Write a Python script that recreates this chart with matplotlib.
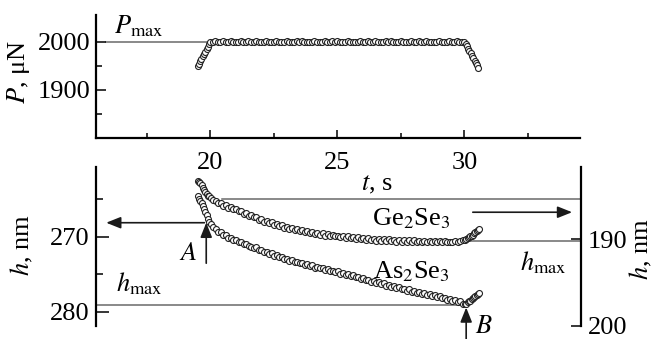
import matplotlib.pyplot as plt

plt.rcParams['font.family'] = ['Liberation Serif', 'DejaVu Serif']
plt.rcParams['mathtext.fontset'] = 'stix'
plt.rcParams['font.size'] = 19

# sample times, s (shared by the three records)
t = [19.50, 19.55, 19.60, 19.65, 19.70, 19.75, 19.80, 19.85, 19.90, 19.95, 20.00,
     20.1, 20.2, 20.3, 20.4, 20.5, 20.6, 20.7, 20.8, 20.9,
     21.0, 21.1, 21.2, 21.3, 21.4, 21.5, 21.6, 21.7, 21.8, 21.9,
     22.0, 22.1, 22.2, 22.3, 22.4, 22.5, 22.6, 22.7, 22.8, 22.9,
     23.0, 23.1, 23.2, 23.3, 23.4, 23.5, 23.6, 23.7, 23.8, 23.9,
     24.0, 24.1, 24.2, 24.3, 24.4, 24.5, 24.6, 24.7, 24.8, 24.9,
     25.0, 25.1, 25.2, 25.3, 25.4, 25.5, 25.6, 25.7, 25.8, 25.9,
     26.0, 26.1, 26.2, 26.3, 26.4, 26.5, 26.6, 26.7, 26.8, 26.9,
     27.0, 27.1, 27.2, 27.3, 27.4, 27.5, 27.6, 27.7, 27.8, 27.9,
     28.0, 28.1, 28.2, 28.3, 28.4, 28.5, 28.6, 28.7, 28.8, 28.9,
     29.0, 29.1, 29.2, 29.3, 29.4, 29.5, 29.6, 29.7, 29.8, 29.9,
     30.00, 30.05, 30.10, 30.15, 30.20, 30.25, 30.30, 30.35, 30.40, 30.45, 30.50, 30.55]

# load, uN
P = [1950, 1955, 1960, 1965, 1970, 1975, 1980, 1985, 1990, 1995, 2000,
     2000, 2001, 1999, 2000, 2001, 2000, 1999, 2001, 2000,
     2000, 1999, 2001, 2000, 2000, 2001, 1999, 2000, 2001, 2000,
     1999, 2000, 2001, 2000, 1999, 2000, 2001, 2000, 2000, 1999,
     2001, 2000, 2000, 1999, 2001, 2000, 2001, 2000, 1999, 2000,
     2000, 2001, 1999, 2000, 2000, 2001, 2000, 1999, 2001, 2000,
     2001, 2000, 1999, 2000, 2001, 2000, 2000, 1999, 2000, 2001,
     2000, 1999, 2001, 2000, 2000, 2001, 1999, 2000, 2000, 2001,
     2000, 2001, 2000, 1999, 2000, 2001, 2000, 2000, 1999, 2001,
     2000, 2000, 2001, 1999, 2000, 2001, 2000, 1999, 2000, 2000,
     2001, 2000, 1999, 2000, 2001, 2000, 2000, 2001, 1999, 2000,
     2000, 1996, 1991, 1986, 1981, 1976, 1971, 1966, 1961, 1956, 1951, 1946]

# depth As2Se3, nm (left axis)
h_as = [264.6, 264.9, 265.2, 265.5, 265.9, 266.3, 266.7, 267.1, 267.6, 268.0, 268.3,
        268.7, 268.9, 269.3, 269.4, 269.7, 269.8, 270.1, 270.1, 270.4,
        270.4, 270.7, 270.7, 271.0, 270.9, 271.2, 271.3, 271.5, 271.4, 271.7,
        271.8, 272.0, 272.0, 272.3, 272.2, 272.5, 272.4, 272.7, 272.7, 273.0,
        272.9, 273.2, 273.1, 273.4, 273.3, 273.5, 273.5, 273.7, 273.6, 273.9,
        273.8, 274.1, 274.0, 274.2, 274.2, 274.4, 274.3, 274.6, 274.5, 274.7,
        274.6, 274.9, 274.8, 275.1, 275.0, 275.2, 275.1, 275.4, 275.3, 275.6,
        275.5, 275.8, 275.7, 276.0, 275.9, 276.1, 276.0, 276.3, 276.2, 276.5,
        276.4, 276.7, 276.6, 276.8, 276.7, 277.0, 276.9, 277.2, 277.0, 277.3,
        277.2, 277.5, 277.3, 277.6, 277.5, 277.7, 277.6, 277.9, 277.7, 278.0,
        277.9, 278.2, 278.1, 278.4, 278.3, 278.5, 278.4, 278.7, 278.6, 278.9,
        279.0, 278.9, 278.7, 278.6, 278.5, 278.3, 278.2, 278.0, 277.9, 277.8, 277.6, 277.5]

# depth Ge2Se3, nm (right axis)
h_ge = [183.3, 183.4, 183.6, 183.8, 184.1, 184.4, 184.6, 184.8, 185.0, 185.1, 185.3,
        185.5, 185.6, 185.9, 185.9, 186.2, 186.1, 186.4, 186.3, 186.6,
        186.5, 186.8, 186.8, 187.1, 187.0, 187.3, 187.2, 187.5, 187.5, 187.8,
        187.7, 188.0, 187.9, 188.2, 188.1, 188.4, 188.3, 188.5, 188.4, 188.7,
        188.6, 188.9, 188.7, 189.0, 188.9, 189.1, 189.0, 189.2, 189.1, 189.3,
        189.2, 189.4, 189.3, 189.5, 189.3, 189.6, 189.4, 189.7, 189.5, 189.7,
        189.6, 189.8, 189.6, 189.9, 189.7, 189.9, 189.8, 190.0, 189.8, 190.0,
        189.9, 190.1, 189.9, 190.1, 190.0, 190.2, 190.0, 190.2, 190.0, 190.2,
        190.0, 190.2, 190.1, 190.3, 190.1, 190.3, 190.1, 190.3, 190.1, 190.3,
        190.1, 190.3, 190.2, 190.4, 190.2, 190.3, 190.2, 190.4, 190.2, 190.4,
        190.2, 190.4, 190.2, 190.4, 190.3, 190.4, 190.2, 190.3, 190.2, 190.1,
        190.1, 190.0, 189.9, 189.8, 189.7, 189.6, 189.5, 189.3, 189.2, 189.1, 189.0, 188.9]

p_max = 2000
h_max_as = 279.1
h_max_ge = 190.2
h_start_ge = 185.4

mk = dict(ls='none', marker='o', ms=4.3, mfc='white', mec='#222222', mew=0.8, zorder=3)
ref = dict(color='#6a6a6a', lw=1.1, zorder=1)
arr = dict(arrowstyle='-|>,head_length=0.55,head_width=0.22', color='#1a1a1a',
           lw=1.2, shrinkA=0, shrinkB=0, mutation_scale=16)

fig = plt.figure(figsize=(6.56, 3.39), dpi=100)
W, H = 656, 339
axb = fig.add_axes([96 / W, 1 - 326 / H, 485 / W, 159 / H])
axr = axb.twinx()
ax = fig.add_axes([96 / W, 1 - 138 / H, 484 / W, 123 / H])
for a in (axb, axr, ax):
    a.patch.set_visible(False)

# --- top: load
ax.plot(t, P, **mk)
ax.plot([15.9, 20.0], [p_max, p_max], **ref)
ax.set_xlim(15.5, 34.55)
ax.set_ylim(1800, 2056)
ax.set_xticks([20, 25, 30])
ax.set_xticks([17.5, 22.5, 27.5, 32.5], minor=True)
ax.set_yticks([1900, 2000])
ax.set_yticks([1850, 1950], minor=True)
for s in ['top', 'right']:
    ax.spines[s].set_visible(False)
for s in ['left', 'bottom']:
    ax.spines[s].set_linewidth(1.6)
ax.tick_params(which='both', direction='in', width=1.1)
ax.tick_params(axis='x', which='major', length=6, pad=10)
ax.tick_params(axis='x', which='minor', length=3.5)
ax.tick_params(axis='y', which='major', length=7, pad=4)
ax.tick_params(axis='y', which='minor', length=4)
ax.text(16.22, 2018, r'$P_{\mathrm{max}}$', ha='left', va='baseline')

# --- bottom: depth
axb.plot(t, h_as, **mk)
axr.plot(t, h_ge, **mk)
axb.plot([15.5, 30.0], [h_max_as, h_max_as], **ref)
axr.plot([26.0, 34.55], [h_max_ge, h_max_ge], **ref)
axr.plot([20.45, 34.55], [h_start_ge, h_start_ge], **ref)

axb.set_xlim(15.5, 34.55)
axb.set_ylim(281.87, 260.67)
axr.set_ylim(200, 181.72)
axb.set_yticks([270, 280])
axb.set_yticks([265, 275], minor=True)
axr.set_yticks([190, 200])
axb.set_xticks([])
for a in (axb, axr):
    for s in ['top', 'bottom']:
        a.spines[s].set_visible(False)
axb.spines['right'].set_visible(False)
axr.spines['left'].set_visible(False)
axb.spines['left'].set_linewidth(1.6)
axr.spines['right'].set_linewidth(1.6)
axb.tick_params(which='both', direction='in', width=1.1, pad=5)
axb.tick_params(which='major', length=9)
axb.tick_params(which='minor', length=5)
axr.tick_params(direction='in', width=1.1, length=7, pad=5)

axb.annotate('', xy=(15.9, 268.1), xytext=(19.76, 268.1), arrowprops=arr)
axb.annotate('', xy=(34.2, 266.7), xytext=(30.3, 266.7), arrowprops=arr)
axb.annotate('', xy=(19.83, 268.1), xytext=(19.83, 273.5), arrowprops=arr)
axb.annotate('', xy=(30.04, 279.4), xytext=(30.04, 283.6), arrowprops=arr,
             annotation_clip=False)
axb.text(19.1, 272.3, r'$A$', ha='center', va='center')
axb.text(30.72, 282.0, r'$B$', ha='center', va='center')
axb.text(27.9, 268.5, r'Ge$_2$Se$_3$', ha='center', va='baseline')
axb.text(27.9, 275.5, r'As$_2$Se$_3$', ha='center', va='baseline')
axb.text(16.3, 277.3, r'$h_{\mathrm{max}}$', ha='left', va='baseline')
axb.text(32.17, 274.4, r'$h_{\mathrm{max}}$', ha='left', va='baseline')

fig.text(377 / W, 1 - 190 / H, r'$t$, s', ha='center', va='baseline')
fig.text(18 / W, 1 - 72 / H, r'$P$, μN', rotation=90, ha='center', va='center')
fig.text(22 / W, 1 - 245 / H, r'$h$, nm', rotation=90, ha='center', va='center')
fig.text(641 / W, 1 - 249 / H, r'$h$, nm', rotation=90, ha='center', va='center')

fig.savefig('out.png', dpi=100)
